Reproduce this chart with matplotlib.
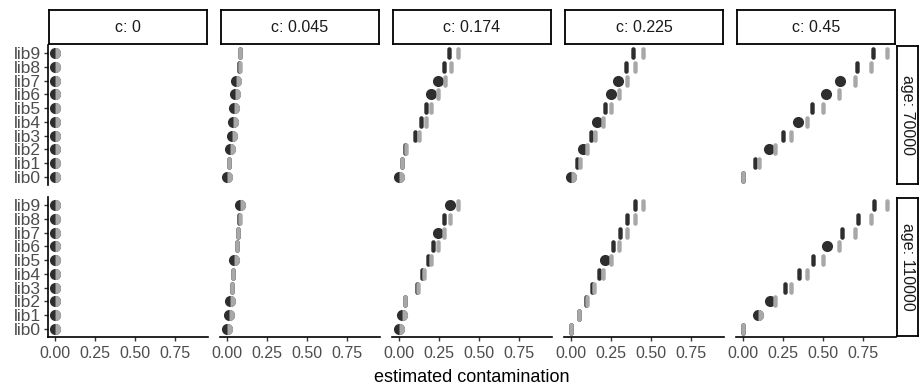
import numpy as np
import matplotlib
matplotlib.use('Agg')
import matplotlib.pyplot as plt
from matplotlib.path import Path

plt.rcParams['font.family'] = ['Liberation Sans', 'DejaVu Sans']

# ── Data ─────────────────────────────────────────────────────────────────────
libs = ['lib0', 'lib1', 'lib2', 'lib3', 'lib4', 'lib5', 'lib6', 'lib7', 'lib8', 'lib9']
c_levels = ['0', '0.045', '0.174', '0.225', '0.45']
ages = ['70000', '110000']

# dark series, one row per c level, lib0..lib9
dark_70000 = [
    [0.0] * 10,
    [0.0, 0.01, 0.02, 0.027, 0.035, 0.042, 0.048, 0.058, 0.074, 0.080],
    [0.0, 0.02, 0.037, 0.10, 0.135, 0.17, 0.20, 0.24, 0.28, 0.31],
    [0.0, 0.037, 0.074, 0.123, 0.164, 0.21, 0.248, 0.29, 0.34, 0.385],
    [0.0, 0.075, 0.161, 0.25, 0.34, 0.427, 0.52, 0.607, 0.71, 0.81],
]
gray_70000 = [
    [0.0] * 10,
    [0.0, 0.01, 0.02, 0.027, 0.035, 0.042, 0.048, 0.058, 0.077, 0.083],
    [0.0, 0.02, 0.043, 0.125, 0.165, 0.20, 0.245, 0.285, 0.325, 0.365],
    [0.0, 0.053, 0.098, 0.15, 0.197, 0.248, 0.30, 0.35, 0.40, 0.45],
    [0.0, 0.10, 0.20, 0.296, 0.40, 0.50, 0.60, 0.70, 0.80, 0.90],
]
round_70000 = [list(range(10)), [0, 2, 3, 4, 5, 6, 7], [0, 6, 7], [0, 2, 4, 6, 7], [2, 4, 6, 7]]

dark_110000 = [
    [0.0] * 10,
    [0.0, 0.01, 0.02, 0.027, 0.035, 0.042, 0.062, 0.068, 0.075, 0.083],
    [0.0, 0.02, 0.037, 0.113, 0.14, 0.18, 0.212, 0.243, 0.28, 0.315],
    [0.0, 0.047, 0.092, 0.13, 0.174, 0.21, 0.262, 0.307, 0.35, 0.396],
    [0.0, 0.09, 0.167, 0.264, 0.347, 0.437, 0.525, 0.62, 0.715, 0.816],
]
gray_110000 = [
    [0.0] * 10,
    [0.0, 0.01, 0.02, 0.027, 0.035, 0.042, 0.062, 0.068, 0.077, 0.083],
    [0.0, 0.02, 0.037, 0.12, 0.154, 0.20, 0.24, 0.28, 0.32, 0.365],
    [0.0, 0.047, 0.098, 0.145, 0.20, 0.248, 0.30, 0.35, 0.40, 0.45],
    [0.0, 0.095, 0.20, 0.30, 0.40, 0.50, 0.60, 0.70, 0.80, 0.90],
]
round_110000 = [list(range(10)), [0, 1, 2, 5, 9], [0, 1, 7, 9], [5], [1, 2, 6]]

dark_by_age = {'70000': dark_70000, '110000': dark_110000}
gray_by_age = {'70000': gray_70000, '110000': gray_110000}
round_by_age = {'70000': round_70000, '110000': round_110000}

x_ticks = [0.0, 0.25, 0.5, 0.75]

# ── Styling ──────────────────────────────────────────────────────────────────
DARK = '#2e2e2e'
GRAY = '#a8a8a8'

# stadium-shaped marker (vertical pill with rounded ends)
_t = np.linspace(0, np.pi, 12)
_rw, _hh = 0.35, 0.65
_top = np.column_stack([_rw * np.cos(_t), _hh + _rw * np.sin(_t)])
_bot = np.column_stack([-_rw * np.cos(_t), -_hh - _rw * np.sin(_t)])
_verts = np.vstack([_top, _bot, _top[:1]])
PILL = Path(_verts, closed=True)
PILL_MS = 9.0
ROUND_MS = 8.0

W, H = 920, 389
fig = plt.figure(figsize=(W / 100, H / 100), dpi=100)

def px_axes(x0, y0, w, h):
    return fig.add_axes([x0 / W, 1 - (y0 + h) / H, w / W, h / H])

col_left = [48, 220, 392, 564, 736]
col_w = 160
row_top = [45, 197]
row_h = 140

for r, age in enumerate(ages):
    for c, clab in enumerate(c_levels):
        ax = px_axes(col_left[c], row_top[r], col_w, row_h)
        d = np.array(dark_by_age[age][c])
        g = np.array(gray_by_age[age][c])
        y = np.arange(len(libs))
        rnd = np.zeros(len(libs), bool)
        rnd[round_by_age[age][c]] = True
        coinc = np.abs(d - g) < 0.008

        # dark series
        ax.plot(d[~rnd], y[~rnd], ls='none', marker=PILL, ms=PILL_MS, color=DARK, mew=0)
        ax.plot(d[rnd], y[rnd], ls='none', marker='o', ms=ROUND_MS, color=DARK, mew=0)
        # gray series
        half = rnd & coinc
        ax.plot(g[~half], y[~half], ls='none', marker=PILL, ms=PILL_MS, color=GRAY, mew=0)
        ax.plot(g[half], y[half], ls='none', marker='o', ms=ROUND_MS, mew=0,
                fillstyle='right', markerfacecolor=GRAY, markerfacecoloralt='none')

        ax.set_xlim(-0.045, 0.955)
        ax.set_ylim(-0.6, 9.6)
        for s in ax.spines.values():
            s.set_visible(False)
        ax.set_facecolor('none')
        ax.set_xticks(x_ticks)
        ax.set_yticks(y)
        ax.tick_params(colors='#333333', labelcolor='#4d4d4d', length=3, width=1)
        if c == 0:
            ax.spines['left'].set_visible(True)
            ax.spines['left'].set_linewidth(1.2)
            ax.set_yticklabels(libs, fontsize=12.5)
            ax.tick_params(axis='y', pad=2)
        else:
            ax.tick_params(axis='y', left=False, labelleft=False)
        if r == 1:
            ax.spines['bottom'].set_visible(True)
            ax.spines['bottom'].set_linewidth(1.2)
            ax.set_xticklabels(['0.00', '0.25', '0.50', '0.75'], fontsize=11.5)
        else:
            ax.tick_params(axis='x', bottom=False, labelbottom=False)

# strips on top
for c, clab in enumerate(c_levels):
    sax = px_axes(col_left[c] + 1, 10, col_w - 2, 34)
    sax.set_xticks([]); sax.set_yticks([])
    for s in sax.spines.values():
        s.set_linewidth(1.3)
    sax.text(0.5, 0.5, f'c: {clab}', ha='center', va='center', fontsize=11.5,
             color='#1a1a1a', transform=sax.transAxes)

# strips on the right
for r, age in enumerate(ages):
    sax = px_axes(897, row_top[r] + 1, 21, row_h - 2)
    sax.set_xticks([]); sax.set_yticks([])
    for s in sax.spines.values():
        s.set_linewidth(1.3)
    sax.text(0.5, 0.5, f'age: {age}', ha='center', va='center', fontsize=11.5,
             rotation=-90, color='#1a1a1a', transform=sax.transAxes)

fig.text(472 / W, 1 - 378 / H, 'estimated contamination', ha='center', va='center',
         fontsize=13)

fig.savefig('out.png', dpi=100)
